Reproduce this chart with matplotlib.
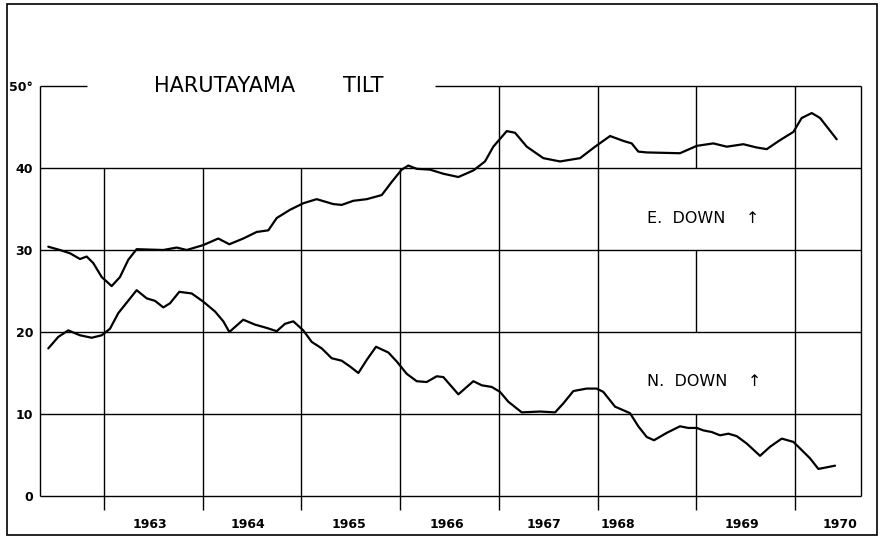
import matplotlib
matplotlib.use('Agg')
import matplotlib.pyplot as plt
from matplotlib.patches import Rectangle

# E. down tilt (upper curve), decimal year vs seconds of arc
e_years = [1962.436, 1962.554, 1962.656, 1962.757, 1962.825, 1962.892, 1962.977,
           1963.078, 1963.162, 1963.246, 1963.331, 1963.601, 1963.737, 1963.838,
           1964.006, 1964.158, 1964.270, 1964.411, 1964.547, 1964.665, 1964.750,
           1964.884, 1965.019, 1965.155, 1965.323, 1965.408, 1965.526, 1965.662,
           1965.814, 1965.915, 1966.016, 1966.083, 1966.168, 1966.303, 1966.438,
           1966.590, 1966.742, 1966.860, 1966.944, 1967.080, 1967.164, 1967.283,
           1967.451, 1967.620, 1967.823, 1967.975, 1968.127, 1968.262, 1968.346,
           1968.413, 1968.498, 1968.835, 1969.005, 1969.173, 1969.309, 1969.477,
           1969.613, 1969.714, 1969.849, 1969.984, 1970.068, 1970.170, 1970.254,
           1970.423]
e_tilt = [30.4, 30.0, 29.6, 28.9, 29.2, 28.4, 26.7,
          25.6, 26.7, 28.8, 30.1, 30.0, 30.3, 30.0,
          30.6, 31.4, 30.7, 31.4, 32.2, 32.4, 33.9,
          34.9, 35.7, 36.2, 35.6, 35.5, 36.0, 36.2,
          36.7, 38.3, 39.8, 40.3, 39.9, 39.8, 39.3,
          38.9, 39.7, 40.8, 42.6, 44.5, 44.3, 42.6,
          41.2, 40.8, 41.2, 42.6, 43.9, 43.3, 43.0,
          42.0, 41.9, 41.8, 42.7, 43.0, 42.6, 42.9,
          42.5, 42.3, 43.4, 44.4, 46.1, 46.7, 46.1,
          43.5]

# N. down tilt (lower curve)
n_years = [1962.436, 1962.537, 1962.638, 1962.757, 1962.875, 1962.977, 1963.061,
           1963.145, 1963.331, 1963.433, 1963.517, 1963.601, 1963.669, 1963.763,
           1963.889, 1964.006, 1964.125, 1964.209, 1964.270, 1964.411, 1964.530,
           1964.648, 1964.750, 1964.834, 1964.918, 1965.019, 1965.104, 1965.206,
           1965.307, 1965.408, 1965.492, 1965.577, 1965.662, 1965.756, 1965.881,
           1965.966, 1966.067, 1966.168, 1966.269, 1966.371, 1966.438, 1966.590,
           1966.742, 1966.827, 1966.928, 1967.012, 1967.096, 1967.232, 1967.418,
           1967.570, 1967.654, 1967.755, 1967.890, 1967.991, 1968.058, 1968.177,
           1968.329, 1968.413, 1968.498, 1968.572, 1968.701, 1968.835, 1968.920,
           1969.005, 1969.072, 1969.157, 1969.241, 1969.325, 1969.410, 1969.511,
           1969.646, 1969.747, 1969.866, 1969.984, 1970.068, 1970.152, 1970.237,
           1970.322, 1970.406]
n_tilt = [18.0, 19.4, 20.2, 19.6, 19.3, 19.6, 20.4,
          22.3, 25.1, 24.1, 23.8, 23.0, 23.5, 24.9,
          24.7, 23.7, 22.5, 21.3, 20.0, 21.5, 20.9,
          20.5, 20.1, 21.0, 21.3, 20.2, 18.8, 18.0,
          16.8, 16.5, 15.8, 15.0, 16.6, 18.2, 17.5,
          16.4, 14.9, 14.0, 13.9, 14.6, 14.5, 12.4,
          14.0, 13.5, 13.3, 12.7, 11.5, 10.2, 10.3,
          10.2, 11.3, 12.8, 13.1, 13.1, 12.7, 10.9,
          10.1, 8.5, 7.2, 6.8, 7.7, 8.5, 8.3,
          8.3, 8.0, 7.8, 7.4, 7.6, 7.3, 6.4,
          4.9, 6.0, 7.0, 6.6, 5.6, 4.6, 3.3,
          3.5, 3.7]

year_labels = ['1963', '1964', '1965', '1966', '1967', '1968', '1969', '1970']
y_values = [0, 10, 20, 30, 40, 50]
y_labels = ['0', '10', '20', '30', '40', '50°']

fig = plt.figure(figsize=(8.85, 5.45), dpi=100)
fig.patch.set_facecolor('white')
ax = fig.add_axes([0.0452, 0.0899, 0.9277, 0.7523])
ax.set_xlim(1962.352, 1970.669)
ax.set_ylim(0, 50)
for s in ax.spines.values():
    s.set_visible(False)

lw_grid = 1.0
kw = dict(color='black', lw=lw_grid, clip_on=False, solid_capstyle='butt')

# horizontal grid
for v in [0, 10, 20, 30, 40]:
    ax.plot([1962.352, 1970.669], [v, v], **kw)
ax.plot([1962.352, 1962.83], [50, 50], **kw)
ax.plot([1966.35, 1970.669], [50, 50], **kw)

# frame sides
ax.plot([1962.352, 1962.352], [0, 50], **kw)
ax.plot([1970.669, 1970.669], [0, 50], **kw)

# vertical grid, broken where the title and labels sit
for yr in [1963, 1964, 1965, 1966]:
    ax.plot([yr, yr], [-1.75, 40], **kw)
for yr in [1967, 1968, 1970]:
    ax.plot([yr, yr], [-1.75, 50], **kw)
ax.plot([1969, 1969], [-1.75, 10], **kw)
ax.plot([1969, 1969], [20, 30], **kw)
ax.plot([1969, 1969], [40, 50], **kw)

# curves
ax.plot(e_years, e_tilt, color='black', lw=1.6, solid_joinstyle='round',
        solid_capstyle='round', clip_on=False)
ax.plot(n_years, n_tilt, color='black', lw=1.6, solid_joinstyle='round',
        solid_capstyle='round', clip_on=False)

# tick labels
ax.set_yticks(y_values)
ax.set_yticklabels(y_labels, fontsize=9, fontweight='bold')
ax.set_xticks([1963.466, 1964.459, 1965.482, 1966.475, 1967.458, 1968.208,
               1969.464, 1970.457])
ax.set_xticklabels(year_labels, fontsize=9, fontweight='bold')
ax.tick_params(axis='y', length=0, pad=5)
ax.tick_params(axis='x', length=0, pad=16)

# title and curve names
ax.text(1964.226, 50, 'HARUTAYAMA', fontsize=15, ha='center', va='center')
ax.text(1965.624, 50, 'TILT', fontsize=15, ha='center', va='center')
ax.text(1968.5, 33.9, 'E.  DOWN    \u2191', fontsize=11.5, ha='left', va='center')
ax.text(1968.5, 14.0, 'N.  DOWN    \u2191', fontsize=11.5, ha='left', va='center')

# outer border
fig.add_artist(Rectangle((0.0079, 0.018), 0.983, 0.9747, transform=fig.transFigure,
                         fill=False, lw=1.2, edgecolor='black'))

fig.savefig('out.png', dpi=100, facecolor='white')
